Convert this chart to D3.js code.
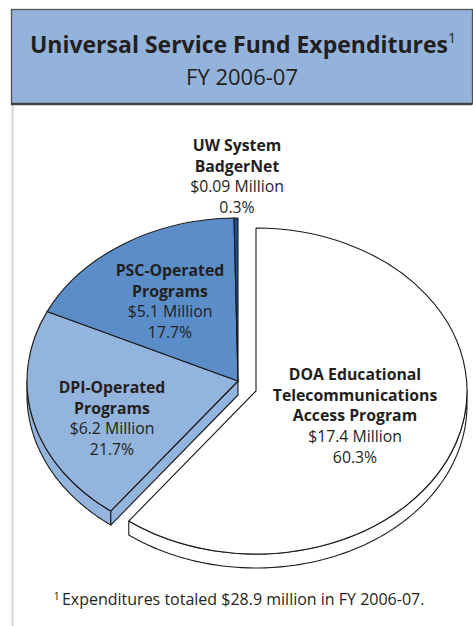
<!DOCTYPE html>
<html><head><meta charset="utf-8">
<script src="https://cdn.jsdelivr.net/npm/d3@7"></script>
<style>body{margin:0;background:#fff} svg{display:block}</style>
</head><body>
<svg id="c" width="473" height="626"></svg>
<script>
// ---- data ----
const categories = ["DOA Educational Telecommunications Access Program", "DPI-Operated Programs", "PSC-Operated Programs", "UW System BadgerNet"];
const labelLines = [["DOA Educational", "Telecommunications", "Access Program"], ["DPI-Operated", "Programs"], ["PSC-Operated", "Programs"], ["UW System", "BadgerNet"]];
const millions = [17.4, 6.2, 5.1, 0.09];
const percents = [60.3, 21.7, 17.7, 0.3];
const amountLabels = ["$17.4 Million", "$6.2 Million", "$5.1 Million", "$0.09 Million"];
const pctLabels = ["60.3%", "21.7%", "17.7%", "0.3%"];
const titleText = "Universal Service Fund Expenditures";
const subtitleText = "FY 2006-07";
const footnoteText = "Expenditures totaled $28.9 million in FY 2006-07.";

// ---- style / layout ----
const colors = ["#ffffff", "#93b4dc", "#5b8ec8", "#1e4f8e"];
const ink = "#231f20";
const font = "'Open Sans', 'Noto Sans', sans-serif";
const rx = 211, ry = 163, depth = 14;
const center = {x: 238, y: 381};
const explode = [{dx: 18, dy: 10}, {dx: 0, dy: 0}, {dx: 0, dy: 0}, {dx: 0, dy: 0}];
const labelPos = [{x: 355, y: 380}, {x: 112, y: 393}, {x: 170, y: 276}, {x: 237, y: 151}];
const lineH = 20.7;

const svg = d3.select("#c");

// header
svg.append("line").attr("x1", 12.5).attr("x2", 12.5).attr("y1", 105).attr("y2", 626)
  .attr("stroke", "#d6d6d6").attr("stroke-width", 2);
svg.append("rect").attr("x", 11.5).attr("y", 9.5).attr("width", 461).attr("height", 94.5)
  .attr("fill", "#93b3db").attr("stroke", "#505050").attr("stroke-width", 1.3);
svg.append("line").attr("x1", 11).attr("x2", 472).attr("y1", 104).attr("y2", 104)
  .attr("stroke", "#404040").attr("stroke-width", 2.5);

const t1 = svg.append("text").attr("x", 243).attr("y", 53).attr("text-anchor", "middle")
  .attr("font-family", font).attr("font-weight", "bold").attr("font-size", 23).attr("fill", ink);
t1.append("tspan").text(titleText);
t1.append("tspan").attr("font-size", 14).attr("font-weight", "normal").attr("dy", -10).text("1");
svg.append("text").attr("x", 242).attr("y", 85).attr("text-anchor", "middle")
  .attr("font-family", font).attr("font-size", 22).attr("fill", ink).text(subtitleText);

// pie
const arcs = d3.pie().sort(null).value(d => d)(percents);
const arcGen = d3.arc().innerRadius(0).outerRadius(rx);
const stroke = "#1a1a1a", sw = 1.1;

function pt(c, a, dz = 0) { return [c.x + rx * Math.sin(a), c.y - ry * Math.cos(a) + dz]; }
function wallPath(c, a0, a1) {
  const s = Math.max(a0, Math.PI / 2), e = Math.min(a1, 3 * Math.PI / 2);
  if (e <= s) return null;
  const n = 80, p = d3.path();
  for (let i = 0; i <= n; i++) {
    const q = pt(c, s + (e - s) * i / n);
    i ? p.lineTo(q[0], q[1]) : p.moveTo(q[0], q[1]);
  }
  for (let i = n; i >= 0; i--) {
    const q = pt(c, s + (e - s) * i / n, depth);
    p.lineTo(q[0], q[1]);
  }
  p.closePath();
  return p.toString();
}

const gPie = svg.append("g");
arcs.forEach((d, i) => {
  const c = {x: center.x + explode[i].dx, y: center.y + explode[i].dy};
  const w = wallPath(c, d.startAngle, d.endAngle);
  if (w) gPie.append("path").attr("d", w).attr("fill", colors[i]).attr("stroke", stroke)
    .attr("stroke-width", sw).attr("stroke-linejoin", "round");
});
// visible cut face at the start of the DPI slice
{
  const a = arcs[1].startAngle, c = center;
  const r0 = pt(c, a), r1 = pt(c, a, depth);
  const p = d3.path();
  p.moveTo(c.x, c.y); p.lineTo(r0[0], r0[1]); p.lineTo(r1[0], r1[1]); p.lineTo(c.x, c.y + depth); p.closePath();
  gPie.append("path").attr("d", p.toString()).attr("fill", colors[1]).attr("stroke", stroke)
    .attr("stroke-width", sw).attr("stroke-linejoin", "round");
}
arcs.forEach((d, i) => {
  const c = {x: center.x + explode[i].dx, y: center.y + explode[i].dy};
  gPie.append("g").attr("transform", `translate(${c.x},${c.y}) scale(1,${ry / rx})`)
    .append("path").attr("d", arcGen(d)).attr("fill", colors[i]).attr("stroke", stroke)
    .attr("stroke-width", sw).attr("vector-effect", "non-scaling-stroke").attr("stroke-linejoin", "round");
});

// labels
labelLines.forEach((lines, i) => {
  const t = svg.append("text").attr("text-anchor", "middle").attr("font-family", font)
    .attr("font-size", 15.8).attr("fill", ink);
  const all = lines.map(s => ({s, b: true})).concat([{s: amountLabels[i], b: false}, {s: pctLabels[i], b: false}]);
  all.forEach((l, k) => {
    t.append("tspan").attr("x", labelPos[i].x).attr("y", labelPos[i].y + k * lineH)
      .attr("font-weight", l.b ? "bold" : "normal").text(l.s);
  });
});

// footnote
const fn = svg.append("text").attr("x", 239).attr("y", 605).attr("text-anchor", "middle")
  .attr("font-family", font).attr("font-size", 16).attr("fill", ink);
fn.append("tspan").attr("font-size", 11).attr("dy", -5).text("1");
fn.append("tspan").attr("dy", 5).attr("dx", 2).text(footnoteText);
</script>
</body></html>
